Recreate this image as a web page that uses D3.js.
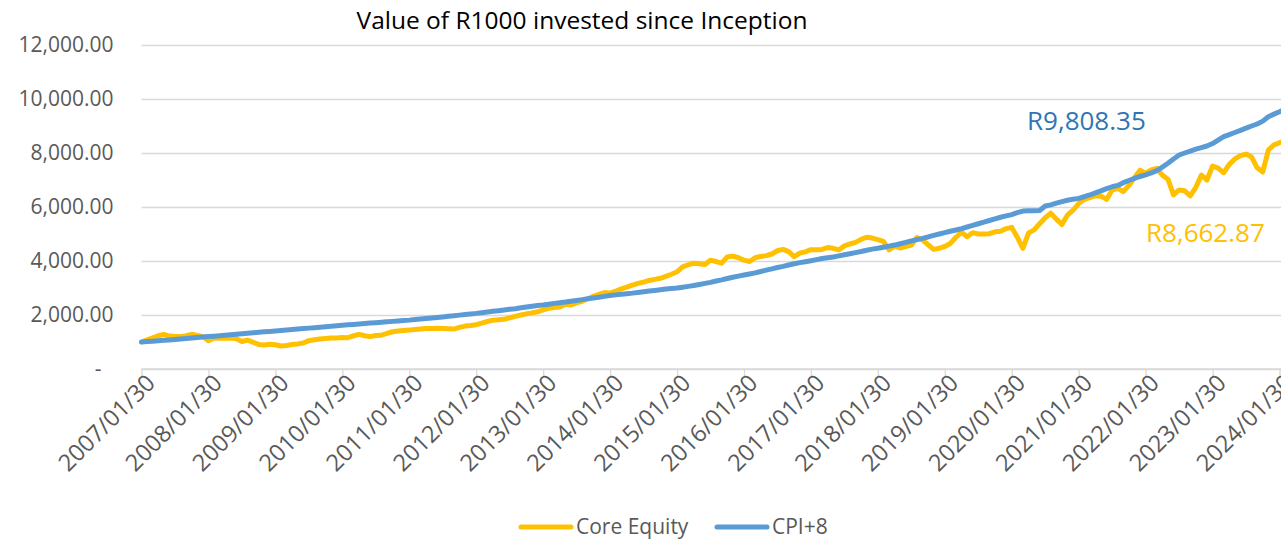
<!DOCTYPE html>
<html>
<head>
<meta charset="utf-8">
<script src="https://cdn.jsdelivr.net/npm/d3@7"></script>
<style>
  body { margin: 0; background: #fff; }
  text { font-family: "Open Sans", sans-serif; }
</style>
</head>
<body>
<div id="chart"></div>
<script>
// tick labels on the x axis, one per year
var tickLabels = ["2007/01/30", "2008/01/30", "2009/01/30", "2010/01/30", "2011/01/30", "2012/01/30",
  "2013/01/30", "2014/01/30", "2015/01/30", "2016/01/30", "2017/01/30", "2018/01/30",
  "2019/01/30", "2020/01/30", "2021/01/30", "2022/01/30", "2023/01/30", "2024/01/30"];

var yTicks = [0, 2000, 4000, 6000, 8000, 10000, 12000];

var seriesNames = ["Core Equity", "CPI+8"];

// monthly values from 2007/01 to 2024/04
var coreEquity = [
  1000, 1080, 1150, 1230, 1280, 1220, 1200, 1200, 1230, 1285, 1240, 1200,
  1050, 1150, 1140, 1140, 1150, 1120, 1020, 1070, 990, 910, 890, 915,
  900, 850, 870, 910, 930, 960, 1050, 1080, 1110, 1130, 1150, 1150,
  1170, 1160, 1230, 1285, 1230, 1200, 1240, 1250, 1320, 1380, 1410, 1430,
  1440, 1460, 1480, 1500, 1500, 1510, 1500, 1490, 1480, 1540, 1590, 1610,
  1640, 1700, 1760, 1810, 1820, 1840, 1900, 1950, 2000, 2040, 2080, 2120,
  2190, 2250, 2280, 2300, 2400, 2370, 2450, 2510, 2600, 2690, 2760, 2830,
  2810, 2880, 2970, 3030, 3110, 3170, 3220, 3280, 3320, 3360, 3430, 3510,
  3600, 3780, 3860, 3920, 3900, 3870, 4030, 3980, 3920, 4150, 4180, 4120,
  4030, 3980, 4120, 4170, 4200, 4260, 4380, 4430, 4350, 4160, 4290, 4340,
  4420, 4420, 4430, 4500, 4470, 4410, 4560, 4630, 4690, 4800, 4880, 4850,
  4790, 4730, 4410, 4560, 4480, 4530, 4590, 4870, 4780, 4600, 4430, 4470,
  4540, 4650, 4880, 5070, 4900, 5050, 5000, 5000, 5010, 5080, 5100, 5200,
  5245, 4880, 4470, 5030, 5150, 5380, 5600, 5770, 5550, 5350, 5700, 5880,
  6130, 6280, 6350, 6420, 6400, 6280, 6630, 6690, 6570, 6800, 7080, 7360,
  7250, 7370, 7430, 7180, 7030, 6450, 6630, 6600, 6410, 6730, 7180, 7000,
  7520, 7440, 7270, 7580, 7780, 7900, 7960, 7850, 7450, 7300, 8110, 8300,
  8380, 8450, 8560, 8662.87
];

var cpiPlus8 = [
  1000, 1015, 1030, 1045, 1062, 1078, 1095, 1112, 1130, 1148, 1165, 1182,
  1200, 1217, 1234, 1251, 1268, 1286, 1304, 1322, 1340, 1358, 1376, 1393,
  1410, 1428, 1446, 1463, 1480, 1497, 1514, 1532, 1550, 1568, 1586, 1603,
  1620, 1636, 1652, 1668, 1684, 1700, 1716, 1732, 1748, 1764, 1780, 1795,
  1810, 1830, 1850, 1870, 1890, 1910, 1930, 1950, 1970, 1995, 2020, 2040,
  2060, 2085, 2110, 2135, 2160, 2185, 2210, 2235, 2265, 2295, 2325, 2350,
  2370, 2400, 2430, 2455, 2480, 2510, 2540, 2570, 2600, 2630, 2660, 2690,
  2720, 2745, 2770, 2790, 2810, 2835, 2860, 2885, 2910, 2935, 2960, 2980,
  3000, 3030, 3060, 3090, 3130, 3170, 3210, 3260, 3300, 3350, 3400, 3440,
  3480, 3520, 3560, 3610, 3660, 3710, 3760, 3800, 3850, 3900, 3940, 3975,
  4010, 4050, 4090, 4120, 4150, 4190, 4230, 4270, 4310, 4350, 4400, 4440,
  4470, 4510, 4550, 4590, 4640, 4690, 4740, 4790, 4840, 4890, 4950, 5000,
  5050, 5100, 5150, 5200, 5260, 5320, 5380, 5440, 5500, 5560, 5620, 5670,
  5720, 5790, 5850, 5860, 5865, 5870, 6035, 6080, 6140, 6200, 6250, 6290,
  6320, 6380, 6445, 6520, 6600, 6680, 6750, 6800, 6900, 6980, 7060, 7130,
  7190, 7260, 7345, 7480, 7620, 7780, 7925, 8000, 8070, 8140, 8200, 8260,
  8350, 8480, 8605, 8680, 8760, 8840, 8920, 9000, 9075, 9180, 9345, 9440,
  9530, 9620, 9710, 9808.35
];

var endLabels = ["R8,662.87", "R9,808.35"];

var colors = ["#FFC000", "#5B9BD5"];

var width = 1281, height = 541;

var svg = d3.select("#chart")
  .append("svg")
    .attr("width", width)
    .attr("height", height);

// month index -> x, one tick per january
var x = d3.scaleLinear()
  .domain([0, 204])
  .range([141.5, 1279.5]);

var y = d3.scaleLinear()
  .domain([0, 12000])
  .range([369, 45]);

// title
svg.append("text")
  .attr("x", 582)
  .attr("y", 29)
  .attr("text-anchor", "middle")
  .style("font-size", "24.5px")
  .style("fill", "#000")
  .text("Value of R1000 invested since Inception");

// gridlines + y labels
var yAxis = svg.append("g")
  .attr("transform", "translate(141.5,0)")
  .call(d3.axisLeft(y)
    .tickValues(yTicks)
    .tickSize(-1140)
    .tickPadding(28)
    .tickFormat(function(d) { return d == 0 ? "-" : d3.format(",.2f")(d); }));

yAxis.select(".domain").remove();
yAxis.selectAll(".tick line")
  .attr("stroke", "#d9d9d9")
  .attr("stroke-width", 1.3);
yAxis.selectAll(".tick text")
  .attr("fill", "#595959")
  .style("font-size", "21px")
  .attr("dx", function(d) { return d == 0 ? -12 : 0; });

// x axis
var xAxis = svg.append("g")
  .attr("transform", "translate(0," + y(0) + ")")
  .call(d3.axisBottom(x)
    .tickValues(d3.range(0, tickLabels.length * 12, 12))
    .tickSize(7)
    .tickFormat(function(d, i) { return tickLabels[i]; }));

xAxis.select(".domain")
  .attr("stroke", "#d9d9d9")
  .attr("stroke-width", 1.3)
  .attr("d", "M" + x(0) + ",0H" + width);
xAxis.selectAll(".tick line")
  .attr("stroke", "#d9d9d9")
  .attr("stroke-width", 1.3);
xAxis.selectAll(".tick text")
  .attr("fill", "#595959")
  .style("font-size", "23.5px")
  .attr("text-anchor", "end")
  .attr("transform", "translate(3,4)rotate(-45)")
  .attr("dy", "0.35em")
  .attr("y", 8)
  .attr("x", 0);

// lines
var line = d3.line()
  .x(function(d, i) { return x(i); })
  .y(function(d) { return y(d); });

[coreEquity, cpiPlus8].forEach(function(s, k) {
  svg.append("path")
    .datum(s)
    .attr("fill", "none")
    .attr("stroke", colors[k])
    .attr("stroke-width", 5)
    .attr("stroke-linejoin", "round")
    .attr("stroke-linecap", "round")
    .attr("d", line);
});

// final value labels
svg.append("text")
  .attr("x", 1027)
  .attr("y", 130)
  .style("font-size", "26px")
  .style("fill", "#2E75B6")
  .text(endLabels[1]);

svg.append("text")
  .attr("x", 1146)
  .attr("y", 242)
  .style("font-size", "26px")
  .style("fill", colors[0])
  .text(endLabels[0]);

// legend
var legendX = [519, 715];
seriesNames.forEach(function(n, k) {
  svg.append("line")
    .attr("x1", legendX[k] + 2)
    .attr("x2", legendX[k] + 52)
    .attr("y1", 527)
    .attr("y2", 527)
    .attr("stroke", colors[k])
    .attr("stroke-width", 5)
    .attr("stroke-linecap", "round");
  svg.append("text")
    .attr("x", legendX[k] + 57)
    .attr("y", 527)
    .attr("dy", "0.35em")
    .style("font-size", "21px")
    .style("fill", "#595959")
    .text(n);
});
</script>
</body>
</html>
